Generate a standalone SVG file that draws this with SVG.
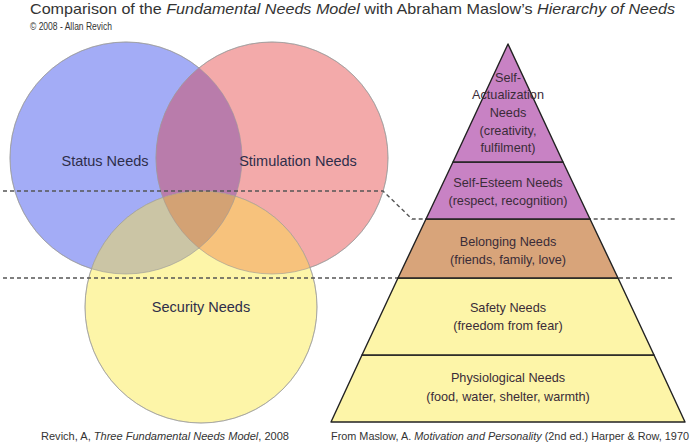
<svg xmlns="http://www.w3.org/2000/svg" width="697" height="445" viewBox="0 0 697 445">
<style>
text{font-family:"Liberation Sans",Arial,sans-serif;fill:#333;}
.lbl{font-size:14.5px;text-anchor:middle;fill:#2e2e4a;}
.pt{font-size:12.7px;text-anchor:middle;fill:#3a2c38;}
.cap{font-size:10.5px;}
.circ{stroke:#9a9a9a;stroke-opacity:0.6;stroke-width:1;}
.lvl{stroke:#222;stroke-width:1.4;stroke-linejoin:round;}
.dash{fill:none;stroke:#555;stroke-width:1.4;stroke-dasharray:4 3;}
</style>
<defs>
<clipPath id="cB"><circle cx="126" cy="158" r="116"/></clipPath>
<clipPath id="cR"><circle cx="272" cy="158" r="116"/></clipPath>
<clipPath id="cY"><circle cx="201" cy="307" r="116"/></clipPath>
</defs>
<rect width="697" height="445" fill="#fff"/>
<g id="title">
<text x="30" y="14" font-size="15" textLength="645" lengthAdjust="spacingAndGlyphs">Comparison of the <tspan font-style="italic">Fundamental Needs Model</tspan> with Abraham Maslow’s <tspan font-style="italic">Hierarchy of Needs</tspan></text>
<text x="30" y="30" font-size="10" textLength="82" lengthAdjust="spacingAndGlyphs">© 2008 - Allan Revich</text>
</g>
<g id="venn">
<g id="status"><circle class="circ" cx="126" cy="158" r="116" fill="#a3acf6"/></g>
<g id="stimulation"><circle class="circ" cx="272" cy="158" r="116" fill="#f3aaaa"/></g>
<g id="security"><circle class="circ" cx="201" cy="307" r="116" fill="#fdf5a8"/></g>
<g clip-path="url(#cB)"><rect x="0" y="0" width="400" height="445" fill="#b97cab" clip-path="url(#cR)"/></g>
<g clip-path="url(#cB)"><rect x="0" y="0" width="400" height="445" fill="#cbc5a5" clip-path="url(#cY)"/></g>
<g clip-path="url(#cR)"><rect x="0" y="0" width="400" height="445" fill="#f7c27c" clip-path="url(#cY)"/></g>
<g clip-path="url(#cB)"><g clip-path="url(#cR)"><rect x="0" y="0" width="400" height="445" fill="#d3a274" clip-path="url(#cY)"/></g></g>
<circle cx="126" cy="158" r="116" fill="none" class="circ"/>
<circle cx="272" cy="158" r="116" fill="none" class="circ"/>
<circle cx="201" cy="307" r="116" fill="none" class="circ"/>
<text class="lbl" x="105" y="166">Status Needs</text>
<text class="lbl" x="298" y="166">Stimulation Needs</text>
<text class="lbl" x="201" y="312">Security Needs</text>
</g>
<g id="connectors">
<path class="dash" d="M3 191 H383 L412 219 H675"/>
<path class="dash" d="M3 278 H675"/>
</g>
<g id="pyramid">
<g id="physiological">
<polygon class="lvl" points="362,355 654,355 685,422 331,422" fill="#fdf5a8"/>
<text class="pt" x="508" y="382">Physiological Needs</text>
<text class="pt" x="508" y="401">(food, water, shelter, warmth)</text>
</g>
<g id="safety">
<polygon class="lvl" points="398,278 618,278 654,355 362,355" fill="#fdf5a8"/>
<text class="pt" x="508" y="312">Safety Needs</text>
<text class="pt" x="508" y="330">(freedom from fear)</text>
</g>
<g id="belonging">
<polygon class="lvl" points="426,219 590,219 618,278 398,278" fill="#d8a47a"/>
<text class="pt" x="508" y="246">Belonging Needs</text>
<text class="pt" x="508" y="264">(friends, family, love)</text>
</g>
<g id="esteem">
<polygon class="lvl" points="453,162 563,162 590,219 426,219" fill="#c882c4"/>
<text class="pt" x="508" y="187">Self-Esteem Needs</text>
<text class="pt" x="508" y="205">(respect, recognition)</text>
</g>
<g id="actualization">
<polygon class="lvl" points="508,44 563,162 453,162" fill="#c882c4"/>
<text class="pt" x="508" y="82">Self-</text>
<text class="pt" x="508" y="99">Actualization</text>
<text class="pt" x="508" y="117">Needs</text>
<text class="pt" x="508" y="135">(creativity,</text>
<text class="pt" x="508" y="152">fulfilment)</text>
</g>
</g>
<g id="captions">
<text class="cap" x="41" y="440" textLength="248" lengthAdjust="spacingAndGlyphs">Revich, A, <tspan font-style="italic">Three Fundamental Needs Model</tspan>, 2008</text>
<text class="cap" x="331" y="440" textLength="358" lengthAdjust="spacingAndGlyphs">From Maslow, A. <tspan font-style="italic">Motivation and Personality</tspan> (2nd ed.) Harper &amp; Row, 1970</text>
</g>
</svg>
